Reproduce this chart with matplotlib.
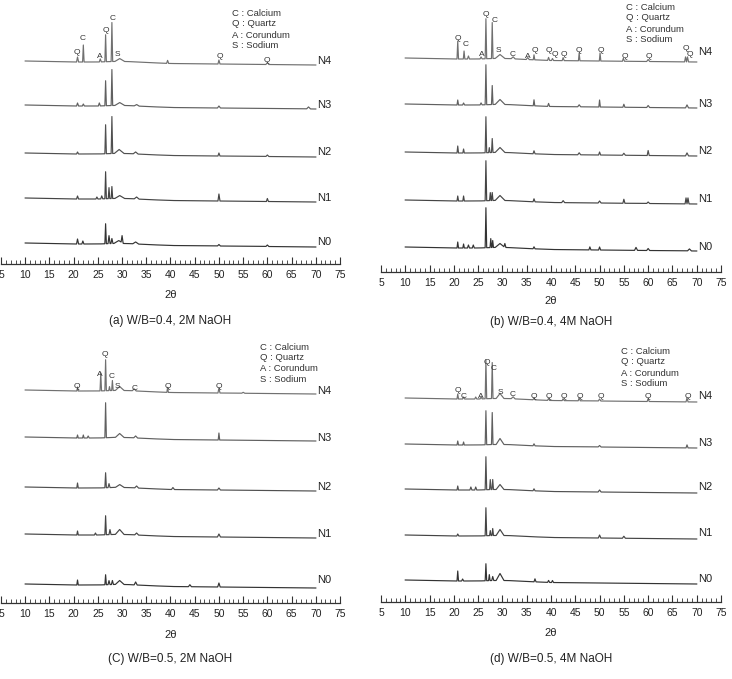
import numpy as np
import matplotlib
matplotlib.use("Agg")
import matplotlib.pyplot as plt
from matplotlib.ticker import MultipleLocator

plt.rcParams["font.family"] = ["Liberation Sans", "DejaVu Sans"]

# ── Data (intensity in arbitrary units) ───────────────────────────────────
SAMPLES = ["N0", "N1", "N2", "N3", "N4"]
TICKS = [5, 10, 15, 20, 25, 30, 35, 40, 45, 50, 55, 60, 65, 70, 75]
LEGEND = ["C : Calcium", "Q : Quartz", "A : Corundum", "S : Sodium"]

# common background (2θ, level)
BG_X = [10, 15, 20, 25, 28, 31, 35, 40, 50, 60, 70]
BG_Y = [3, 2.5, 2, 2, 2.5, 2.5, 1.5, 0.5, 0, -0.5, -1]

# peaks per sample: (2θ, height, half width)
A_PEAKS = [
    [(20.8, 5, .2), (21.9, 3, .2), (26.6, 20, .15), (27.3, 8, .2), (27.9, 5, .2),
     (29.3, 3, 1.0), (30.0, 7, .2), (32.8, 2, .6), (50.0, 1.5, .3), (60, 1.5, .3)],
    [(20.8, 3, .2), (24.8, 2, .2), (25.8, 3, .2), (26.6, 27, .15), (27.3, 11, .15),
     (27.9, 12, .15), (29.5, 3, 1.0), (33, 2, .5), (50.0, 7, .2), (60.0, 3, .2)],
    [(20.8, 2, .2), (26.6, 29, .15), (27.9, 37, .15), (29.4, 4, 1.0), (32.8, 2, .5),
     (50, 3, .2), (60, 1.5, .3)],
    [(20.8, 3, .2), (22, 2, .2), (25.3, 3, .2), (26.6, 25, .15), (27.9, 36, .15),
     (29.5, 3, 1.0), (33, 1.5, .5), (50, 2, .3), (68.5, 2, .4)],
    [(20.8, 5, .2), (22.0, 17, .15), (25.5, 3, .2), (26.6, 27, .15), (27.9, 39, .15),
     (29.5, 3, 1.0), (39.4, 3, .2), (50, 4, .2), (60, 2, .3)],
]
B_PEAKS = [
    [(20.8, 6, .15), (22, 4, .15), (23, 3, .2), (24, 3, .2), (26.6, 40, .15),
     (27.6, 9, .15), (28.0, 7, .15), (29.5, 4, 1.0), (30.5, 4, .2), (36.5, 2, .2),
     (48, 3, .2), (50, 3, .2), (57.5, 3, .3), (60, 2, .3), (68.5, 2, .4)],
    [(20.8, 5, .15), (22, 5, .15), (26.6, 40, .15), (27.5, 8, .15), (27.9, 8, .15),
     (29.5, 5, 1.0), (36.5, 3, .2), (42.5, 2, .3), (50, 2, .3), (55, 4, .2),
     (60, 1.5, .3), (67.8, 6, .2), (68.2, 6, .2)],
    [(20.8, 7, .15), (22, 4, .15), (26.6, 36, .15), (27.3, 5, .15), (27.9, 14, .15),
     (29.5, 5, 1.0), (36.5, 3, .2), (45.8, 2, .3), (50, 3, .2), (55, 2, .3),
     (60, 5, .2), (68, 3, .3)],
    [(20.8, 5, .15), (22, 2, .2), (25.6, 2, .2), (26.6, 40, .15), (27.9, 19, .15),
     (29.5, 5, 1.0), (36.5, 6, .15), (39.5, 3, .2), (45.8, 2, .3), (50, 7, .15),
     (55, 3, .2), (60, 2, .3), (68, 3, .3)],
    [(20.8, 18, .15), (22.1, 8, .15), (23, 3, .2), (25.6, 2, .2), (26.6, 40, .15),
     (27.9, 36, .15), (29.5, 4, 1.0), (32.2, 2, .4), (35.2, 2, .3), (36.5, 5, .15),
     (39.5, 3, .2), (40.3, 2, .2), (42.5, 3, .2), (45.8, 8, .15), (50.1, 8, .15),
     (54.9, 3, .2), (60, 2, .3), (67.7, 5, .2), (68.1, 5, .2)],
]
C_PEAKS = [
    [(20.8, 5, .15), (26.6, 10, .15), (27.3, 4, .2), (28, 4, .2), (29.5, 4, .9),
     (32.8, 3, .3), (44, 2, .3), (50, 4, .25)],
    [(20.8, 4, .15), (24.5, 2, .2), (26.6, 19, .15), (27.5, 5, .2), (29.5, 5, .9),
     (33, 2, .4), (50, 3, .3)],
    [(20.8, 5, .15), (26.6, 15, .15), (27.3, 4, .2), (29.5, 3, .9), (33, 2, .4),
     (40.5, 2, .3), (50, 2, .3)],
    [(20.8, 3, .15), (22, 3, .15), (23, 2, .2), (26.6, 35, .15), (29.5, 4, .9),
     (32.8, 2, .4), (50, 7, .15)],
    [(20.8, 4, .15), (25.6, 18, .15), (26.6, 31, .15), (27.4, 4, .15), (28, 10, .15),
     (29.5, 4, .9), (32.5, 2, .4), (39.4, 5, .15), (50, 5, .2), (55, 1, .3)],
]
D_PEAKS = [
    [(20.8, 10, .15), (21.8, 2, .2), (26.6, 17, .15), (27.3, 6, .15), (28, 4, .2),
     (29.5, 7, .8), (36.7, 3, .2), (39.5, 2, .2), (40.3, 2, .2)],
    [(20.8, 2, .2), (26.6, 28, .15), (27.5, 5, .15), (28, 7, .15), (29.5, 6, .8),
     (50, 3, .25), (55, 2, .3)],
    [(20.8, 4, .15), (23.5, 3, .2), (24.5, 3, .2), (26.6, 33, .15), (27.5, 10, .15),
     (28, 10, .15), (29.5, 5, .8), (36.5, 2, .2), (50, 2, .3)],
    [(20.8, 4, .15), (22, 3, .15), (26.6, 34, .15), (27.9, 32, .15), (29.5, 6, .8),
     (36.5, 2, .2), (50, 1.5, .3), (68, 3, .2)],
    [(20.8, 5, .15), (22, 2, .2), (24.5, 2, .2), (25.6, 2, .2), (26.6, 39, .15),
     (27.9, 36, .15), (29.5, 5, .8), (32.2, 2, .4), (36.5, 2, .2), (39.5, 2, .2),
     (42.5, 2, .2), (45.8, 3, .2), (50, 2, .25), (60, 3, .2), (68, 4, .2)],
]

# vertical offsets of N0..N4
A_OFFSETS = [18, 63, 108, 156, 200]
B_OFFSETS = [22, 69, 117, 165, 211]
C_OFFSETS = [16, 66, 113, 163, 210]
D_OFFSETS = [19, 64, 110, 155, 201]

# N-label height above each trace
A_NLAB = [4, 3, 4, 3, 3]
B_NLAB = [3, 4, 4, 3, 9]
C_NLAB = [7, 3, 3, 2, 2]
D_NLAB = [4, 5, 5, 4, 5]

# phase letters (letter, 2θ, height above N4 trace)
A_MARKS = [("Q", 20.7, 11), ("C", 21.9, 25), ("A", 25.4, 7), ("Q", 26.6, 33),
           ("C", 28.1, 46), ("S", 29.1, 10), ("Q", 50.1, 7), ("Q", 60.0, 4)]
B_MARKS = [("Q", 20.9, 23), ("C", 22.5, 17), ("A", 25.8, 7), ("Q", 26.6, 46),
           ("C", 28.3, 41), ("S", 29.1, 10), ("C", 32.2, 7), ("A", 35.3, 4),
           ("Q", 36.7, 10), ("Q", 39.6, 11), ("Q", 40.8, 7), ("Q", 42.7, 7),
           ("Q", 45.8, 10), ("Q", 50.3, 10), ("Q", 55.2, 4), ("Q", 60.2, 4),
           ("Q", 67.8, 13), ("Q", 68.6, 6)]
C_MARKS = [("Q", 20.7, 7), ("A", 25.4, 18), ("Q", 26.5, 38), ("C", 27.9, 16),
           ("S", 29.1, 6), ("C", 32.6, 4), ("Q", 39.4, 7), ("Q", 50.0, 7)]
D_MARKS = [("Q", 20.9, 10), ("C", 22.1, 5), ("A", 25.6, 4), ("Q", 26.8, 38),
           ("C", 28.1, 33), ("S", 29.5, 9), ("C", 32.2, 6), ("Q", 36.5, 4),
           ("Q", 39.6, 4), ("Q", 42.7, 4), ("Q", 46.0, 5), ("Q", 50.3, 4),
           ("Q", 60.0, 4), ("Q", 68.2, 4)]

CAPTIONS = ["(a) W/B=0.4, 2M NaOH", "(b) W/B=0.4, 4M NaOH",
            "(C) W/B=0.5, 2M NaOH", "(d) W/B=0.5, 4M NaOH"]

TRACE_COLORS = ["#333333", "#444444", "#505050", "#606060", "#707070"]

# ── Layout in pixels ──────────────────────────────────────────────────────
W, H = 732, 679
# (left, right, top, spine, legend x, legend y, 2θ y, caption y)
PANELS = [
    (1, 340, 0, 264, 232, 13, 295, 321),
    (381, 721, 0, 272, 626, 7, 301, 322),
    (1, 340, 340, 603, 260, 347, 635, 659),
    (381, 721, 340, 602, 621, 351, 633, 659),
]
PEAKS = [A_PEAKS, B_PEAKS, C_PEAKS, D_PEAKS]
OFFSETS = [A_OFFSETS, B_OFFSETS, C_OFFSETS, D_OFFSETS]
NLAB = [A_NLAB, B_NLAB, C_NLAB, D_NLAB]
MARKS = [A_MARKS, B_MARKS, C_MARKS, D_MARKS]

fig = plt.figure(figsize=(W / 100, H / 100), dpi=100)
x = np.arange(10, 70.001, 0.02)
bg = np.interp(x, BG_X, BG_Y)

for k, (l, r, t, s, lx, ly, xl_y, cap_y) in enumerate(PANELS):
    ax = fig.add_axes([l / W, 1 - s / H, (r - l) / W, (s - t) / H])
    ax.set_xlim(5, 75)
    ax.set_ylim(0, s - t)
    for side in ["left", "right", "top"]:
        ax.spines[side].set_visible(False)
    ax.spines["bottom"].set_color("#333333")
    ax.spines["bottom"].set_linewidth(0.9)
    ax.set_yticks([])
    ax.set_xticks(TICKS)
    ax.xaxis.set_minor_locator(MultipleLocator(1))
    ax.tick_params(axis="x", which="major", direction="in", length=5, width=0.8,
                   color="#333333", labelsize=7.5, pad=4, labelcolor="#222222")
    ax.tick_params(axis="x", which="minor", direction="in", length=3, width=0.6,
                   color="#333333")
    ax.patch.set_alpha(0)

    for i, name in enumerate(SAMPLES):
        y = OFFSETS[k][i] + bg
        for pos, h, hw in PEAKS[k][i]:
            y = y + np.clip(h * (1 - np.abs(x - pos) / hw), 0, None)
        ax.plot(x, y, color=TRACE_COLORS[i], lw=0.85)
        ax.text(70.3, OFFSETS[k][i] + NLAB[k][i], name, fontsize=8,
                ha="left", va="center", color="#222222")

    top = OFFSETS[k][4]
    for letter, pos, h in MARKS[k]:
        ax.text(pos, top + h, letter, fontsize=6, ha="center", va="center",
                color="#333333")

    for j, line in enumerate(LEGEND):
        fig.text(lx / W, 1 - (ly + 11 * j) / H, line, fontsize=6.8,
                 ha="left", va="center", color="#333333")

    cx = (l + r) / 2
    fig.text(cx / W, 1 - xl_y / H, "2θ", fontsize=8, ha="center", va="center",
             color="#222222")
    fig.text(cx / W, 1 - cap_y / H, CAPTIONS[k], fontsize=8.5, ha="center",
             va="center", color="#222222")

fig.savefig("out.png", dpi=100, facecolor="white")
